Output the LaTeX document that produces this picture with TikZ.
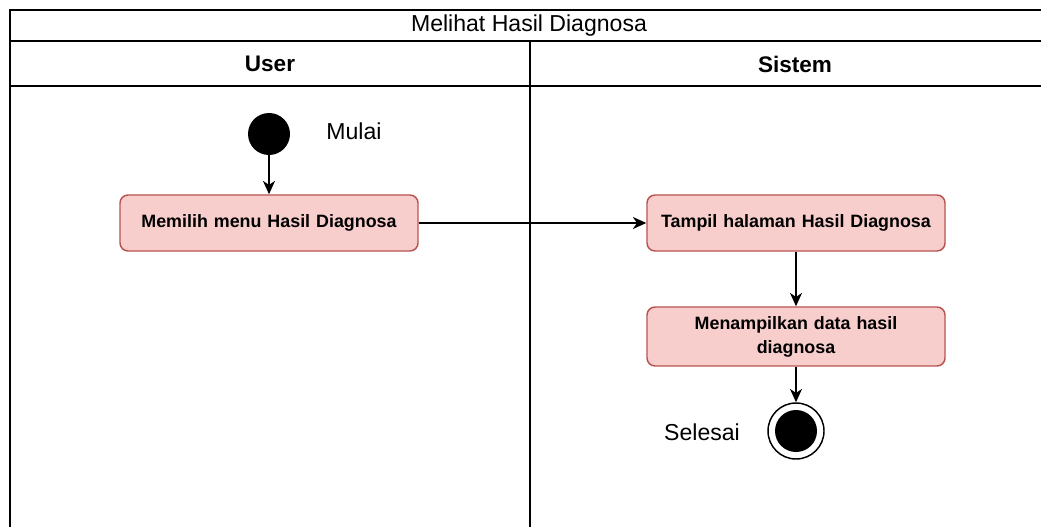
\documentclass[tikz,border=0pt]{standalone}
\usepackage{fontspec}
\setmainfont{Liberation Sans}
\usetikzlibrary{arrows.meta}
\usetikzlibrary{positioning}
\definecolor{actfill}{HTML}{F8CECC}
\definecolor{actline}{HTML}{B85450}

\begin{document}
\begin{tikzpicture} [x=0.75pt,y=-0.75pt,
  act/.style={draw=actline, fill=actfill, line width=1.1pt, rounded corners=6pt,
    minimum width=298*0.75pt, minimum height=56*0.75pt, align=center,
    font=\fontsize{13.4}{18}\selectfont\bfseries, inner sep=2pt, text width=288*0.75pt},
  flow/.style={black, line width=1.2pt, -{Stealth[length=10pt, width=9pt, inset=3pt]}},
  lbl/.style={font=\fontsize{17.3}{20}\selectfont}
]
\useasboundingbox (0,0) rectangle (1041,527);
\coordinate (O) at (9.5,10);
% swimlane frame
\draw[black, line width=1.5pt] (9.5,527) -- (O) -- (1060,10);
\draw[black, line width=1.5pt] (9.5,41) -- (1060,41);
\draw[black, line width=1.5pt] (9.5,86) -- (1060,86);
\draw[black, line width=1.1pt] (530,41) -- (530,527);
\node[lbl] (judul) at (529,26) {Melihat Hasil Diagnosa};
\foreach \x/\nama/\teks in {270/user/User, 795/sistem/Sistem} {
 \node[font=\fontsize{16.9}{20}\selectfont\bfseries] (\nama) at (\x,64) {\teks};
}
% aktivitas
\node[circle, fill=black, minimum size=42*0.75pt, inner sep=0] (mulai) at (269,134) {};
\node[lbl] (tmulai) at (354,131) {Mulai};
\node[act] (pilih) at (269,223) {Memilih menu Hasil Diagnosa};
\node[act] (tampil) at (796,223) {Tampil halaman Hasil Diagnosa};
\node[act, minimum height=59*0.75pt] (data) at (796,336.5) {Menampilkan data hasil\\diagnosa};
\node[circle, draw=black, line width=1.1pt, minimum size=56*0.75pt, inner sep=0] (selesai) at (796,431) {};
\node[circle, fill=black, minimum size=42*0.75pt, inner sep=0] at (selesai) {};
\node[lbl] (tselesai) at (702,432) {Selesai};
% alur
\draw[flow] (mulai) -- (pilih);
\draw[flow] (pilih) -- (tampil);
\draw[flow] (tampil) -- (data);
\draw[flow] (data) -- (selesai);
\end{tikzpicture}
\end{document}
